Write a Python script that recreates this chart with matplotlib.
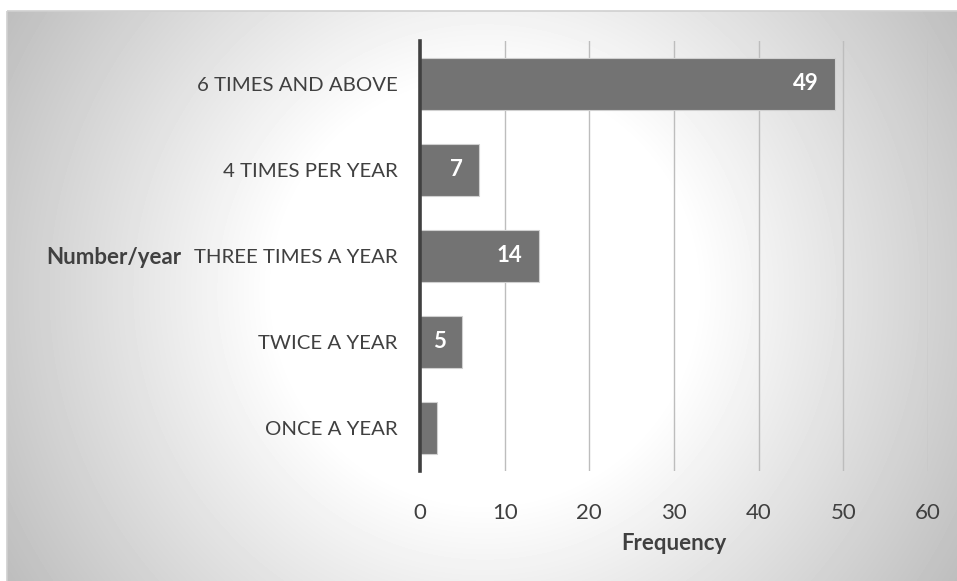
import numpy as np
import matplotlib
matplotlib.use("Agg")
import matplotlib.pyplot as plt
from matplotlib.patches import Rectangle

categories = ["ONCE A YEAR", "TWICE A YEAR", "THREE TIMES A YEAR",
              "4 TIMES PER YEAR", "6 TIMES AND ABOVE"]
frequency = [2, 5, 14, 7, 49]
shown_labels = [False, True, True, True, True]
x_ticks = [0, 10, 20, 30, 40, 50, 60]

W, H = 957, 581
plt.rcParams["font.family"] = ["Lato", "DejaVu Sans"]
fig = plt.figure(figsize=(W / 100, H / 100), dpi=100)
fig.patch.set_facecolor("white")

# chart area with a radial white-to-grey fill
bg = fig.add_axes([0, 0, 1, 1])
bg.set_xlim(0, W)
bg.set_ylim(H, 0)
bg.axis("off")
x0, y0 = 7, 11
xx, yy = np.meshgrid(np.arange(x0, W) + 0.5, np.arange(y0, H) + 0.5)
d = np.hypot(xx - 485, yy - 292)
shade = np.clip(255 - 0.19 * np.clip(d - 210, 0, None), 0, 255) / 255.0
bg.imshow(shade, cmap="gray", vmin=0, vmax=1, extent=(x0, W, H, y0),
          interpolation="bilinear", zorder=0)
bg.add_patch(Rectangle((x0, y0), W - x0 + 5, H - y0 + 5, fill=False,
                       edgecolor="#d0d0d0", linewidth=1.2, zorder=1))

left, right, top, bottom = 420, 928, 41, 471
ax = fig.add_axes([left / W, 1 - bottom / H, (right - left) / W, (bottom - top) / H])
ax.patch.set_alpha(0)

ypos = np.arange(len(categories))
bars = ax.barh(ypos, frequency, height=0.6, color="#737373",
               edgecolor="#d0d0d0", linewidth=0.8, zorder=3)
ax.set_xlim(0, 60)
ax.set_ylim(-0.5, len(categories) - 0.5)
ax.set_xticks(x_ticks)
ax.set_yticks(ypos)
ax.set_yticklabels(categories)
ax.xaxis.grid(True, color="#bdbdbd", linewidth=1.0, zorder=0)
ax.set_axisbelow(True)
for s in ["top", "right", "bottom"]:
    ax.spines[s].set_visible(False)
ax.spines["left"].set_color("#404040")
ax.spines["left"].set_linewidth(2.6)
ax.spines["left"].set_zorder(4)
ax.tick_params(axis="x", length=0, pad=23, labelsize=16, labelcolor="#404040")
ax.tick_params(axis="y", length=0, pad=16, labelsize=14.7, labelcolor="#404040")

for yv, val, show in zip(ypos, frequency, shown_labels):
    if show:
        ax.annotate(str(val), xy=(val, yv), xytext=(-11.5, 0),
                    textcoords="offset points", ha="right", va="center",
                    color="white", fontsize=16, fontweight="bold", zorder=5)

fig.text(674 / W, 1 - 543 / H, "Frequency", ha="center", va="center",
         fontsize=16, fontweight="bold", color="#404040")
fig.text(114 / W, 1 - 257 / H, "Number/year", ha="center", va="center",
         fontsize=16, fontweight="bold", color="#404040")

fig.savefig("out.png", dpi=100, facecolor="white")
